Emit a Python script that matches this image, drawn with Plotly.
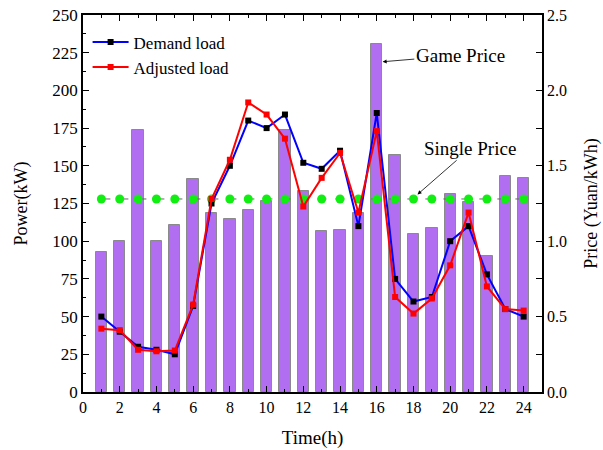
import plotly.graph_objects as go

hours = list(range(1, 25))

# Time-of-use price from the game model (Yuan/kWh)
game_price = [0.93, 1.00, 1.735, 1.00, 1.105, 1.415, 1.19, 1.15, 1.205, 1.265, 1.735, 1.335,
              1.065, 1.075, 1.185, 2.31, 1.57, 1.05, 1.09, 1.31, 1.26, 0.90, 1.43, 1.42]

# Flat single price (Yuan/kWh)
single_price = [1.28] * 24

# Load profiles (kW)
demand_load = [50, 40, 30, 28, 25, 57, 125, 150, 180, 175, 184, 152,
               148, 160, 110, 185, 75, 60, 63, 100, 110, 78, 55, 50]
adjusted_load = [42, 41, 28, 27, 27.5, 58, 128, 154, 192, 184, 168, 123,
                 142, 158.5, 119, 173, 63, 52, 62, 84, 119, 70, 55, 54]

x_ticks = list(range(0, 25, 2))

FONT = "Liberation Serif, Times New Roman, serif"

fig = go.Figure()

fig.add_trace(go.Bar(
    x=hours, y=game_price, yaxis="y", width=0.62,
    marker=dict(color="#b26ef0", line=dict(color="#8a8a8a", width=1)),
    showlegend=False, name="Game Price"))

fig.add_trace(go.Scatter(
    x=hours, y=single_price, yaxis="y", mode="lines+markers",
    line=dict(color="#666666", width=1, dash="dash"),
    marker=dict(color="#11ee11", size=9, symbol="circle"),
    showlegend=False, name="Single Price"))

fig.add_trace(go.Scatter(
    x=hours, y=demand_load, yaxis="y2", mode="lines+markers",
    line=dict(color="#0000ff", width=2),
    marker=dict(color="#000000", size=6, symbol="square"),
    name="Demand load"))

fig.add_trace(go.Scatter(
    x=hours, y=adjusted_load, yaxis="y2", mode="lines+markers",
    line=dict(color="#ff0000", width=2),
    marker=dict(color="#ff0000", size=6, symbol="square"),
    name="Adjusted load"))

fig.update_layout(
    width=603, height=450,
    margin=dict(l=83, r=61, t=15, b=58, autoexpand=False),
    paper_bgcolor="white", plot_bgcolor="white",
    font=dict(family=FONT, color="black", size=16),
    bargap=0,
    xaxis=dict(
        range=[0, 25], tickmode="array", tickvals=x_ticks,
        ticks="inside", ticklen=6, tickwidth=1.2, tickcolor="black",
        minor=dict(ticks="inside", ticklen=3, dtick=1, tickcolor="black"),
        showline=True, linecolor="black", linewidth=1.5, mirror="ticks",
        showgrid=False, zeroline=False, automargin=False,
        tickfont=dict(size=16, family=FONT),
        title=dict(text="Time(h)", font=dict(size=19, family=FONT), standoff=16)),
    yaxis=dict(
        range=[0, 2.5], side="right", dtick=0.5, tickformat=".1f",
        ticks="inside", ticklen=6, tickwidth=1.2, tickcolor="black",
        minor=dict(ticks="inside", ticklen=6, dtick=0.25, tickcolor="black"),
        showline=True, linecolor="black", linewidth=1.5,
        showgrid=False, zeroline=False, automargin=False,
        tickfont=dict(size=16, family=FONT),
        title=dict(text="Price (Yuan/kWh)", font=dict(size=18, family=FONT), standoff=18)),
    yaxis2=dict(
        range=[0, 250], side="left", overlaying="y", dtick=25,
        ticks="inside", ticklen=6, tickwidth=1.2, tickcolor="black",
        minor=dict(ticks="inside", ticklen=3, dtick=12.5, tickcolor="black"),
        showline=True, linecolor="black", linewidth=1.5,
        showgrid=False, zeroline=False, automargin=False,
        tickfont=dict(size=17, family=FONT),
        title=dict(text="Power(kW)", font=dict(size=18, family=FONT), standoff=20)),
    legend=dict(
        x=0.01, y=0.975, xanchor="left", yanchor="top",
        bgcolor="rgba(0,0,0,0)", font=dict(size=17, family=FONT),
        itemwidth=36, tracegroupgap=0),
    annotations=[
        dict(x=16.32, y=219, xref="x", yref="y2",
             ax=20.55, ay=223.3, axref="x", ayref="y2",
             text="Game Price", showarrow=True, arrowhead=2,
             arrowsize=1, arrowwidth=0.8, arrowcolor="black",
             font=dict(size=19, family=FONT)),
        dict(x=18.22, y=131, xref="x", yref="y2",
             ax=21.1, ay=161.6, axref="x", ayref="y2",
             text="Single Price", showarrow=True, arrowhead=2,
             arrowsize=1, arrowwidth=0.8, arrowcolor="black",
             font=dict(size=19, family=FONT)),
    ],
)

fig.write_html("out.html")
